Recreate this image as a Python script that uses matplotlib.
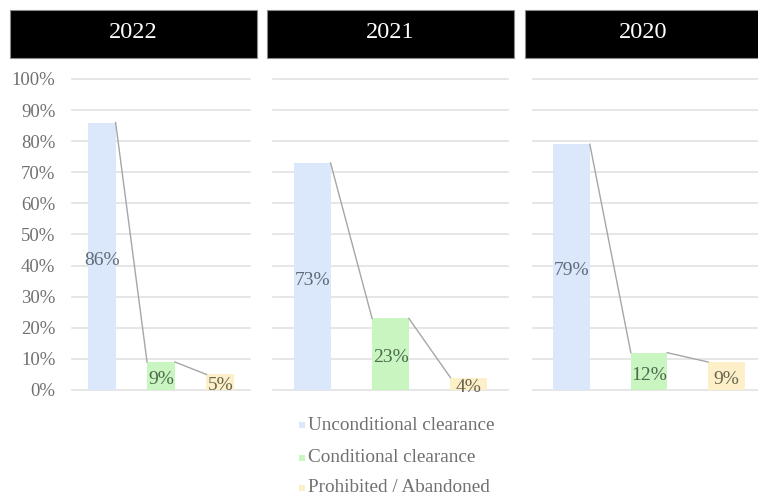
import matplotlib
matplotlib.use("Agg")
import matplotlib.pyplot as plt
from matplotlib.patches import Rectangle

# Outcome shares by year
years = ["2022", "2021", "2020"]
categories = ["Unconditional clearance", "Conditional clearance", "Prohibited / Abandoned"]
share_2022 = [86, 9, 5]
share_2021 = [73, 23, 4]
share_2020 = [79, 12, 9]
shares = [share_2022, share_2021, share_2020]
y_ticks = [0, 10, 20, 30, 40, 50, 60, 70, 80, 90, 100]

bar_colors = ["#dbe8fb", "#c9f5c1", "#fdf0c9"]
label_colors = ["#5f6a78", "#4d6a4d", "#6a6450"]
grid_color = "#e2e2e2"
text_gray = "#707070"

plt.rcParams["font.family"] = ["Liberation Serif", "DejaVu Serif"]

W, H = 758, 495
fig = plt.figure(figsize=(W / 100, H / 100), dpi=100)


def fx(px):
    return px / W


def fy(py):
    return 1 - py / H


# plot areas in pixel coordinates (left, right)
panel_x = [(72, 250), (273, 508), (533, 765)]
title_x = [(10, 257), (267, 514), (525, 762)]
top_px, bottom_px = 79, 390

for i, (year, vals) in enumerate(zip(years, shares)):
    x0, x1 = panel_x[i]
    ax = fig.add_axes([fx(x0), fy(bottom_px), fx(x1 - x0), (bottom_px - top_px) / H])
    xs = list(range(len(categories)))
    ax.bar(xs, vals, width=0.47, color=bar_colors, zorder=2)
    ax.set_xlim(-0.5, 2.5)
    ax.set_ylim(0, 100)
    for t in y_ticks:
        ax.axhline(t, color=grid_color, lw=1.2, zorder=1, clip_on=False)
    # series lines connecting bar tops
    for j in range(len(vals) - 1):
        ax.plot([xs[j] + 0.235, xs[j + 1] - 0.235], [vals[j], vals[j + 1]],
                color="#a6a6a6", lw=1.0, zorder=3)
    for j, v in enumerate(vals):
        ax.text(xs[j], v / 2 - 1.2, f"{v}%", ha="center", va="center",
                fontsize=14, color=label_colors[j], zorder=4)
    for s in ax.spines.values():
        s.set_visible(False)
    ax.set_xticks([])
    if i == 0:
        ax.set_yticks(y_ticks)
        ax.set_yticklabels([f"{t}%" for t in y_ticks], fontsize=13.5, color=text_gray)
        ax.tick_params(axis="y", length=0, pad=12)
    else:
        ax.set_yticks([])

    # black title banner
    tx0, tx1 = title_x[i]
    fig.patches.append(Rectangle((fx(tx0), fy(58)), fx(tx1 - tx0), 48 / H,
                                 transform=fig.transFigure, facecolor="black",
                                 edgecolor="#8a8a8a", lw=0.8))
    fig.text(fx((tx0 + tx1) / 2), fy(33), year, ha="center", va="center",
             color="white", fontsize=17.5)

# legend
legend_y = [425, 458, 488]
for c, name, ly in zip(bar_colors, categories, legend_y):
    fig.patches.append(Rectangle((fx(299), fy(ly + 3)), fx(6), 6 / H,
                                 transform=fig.transFigure, facecolor=c, edgecolor="none"))
    fig.text(fx(308), fy(ly), name, ha="left", va="center", fontsize=13.8, color=text_gray)

fig.savefig("out.png", dpi=100)
